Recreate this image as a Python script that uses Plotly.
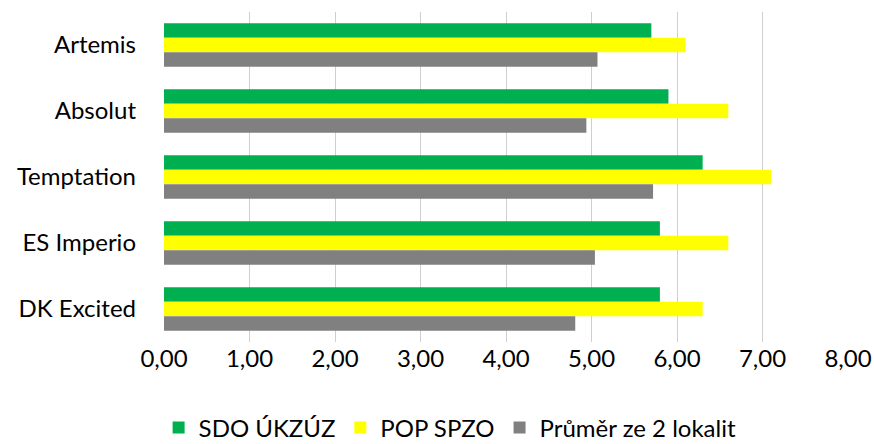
import plotly.graph_objects as go

categories = ["Artemis", "Absolut", "Temptation", "ES Imperio", "DK Excited"]
sdo_ukzuz = [5.7, 5.9, 6.3, 5.8, 5.8]
pop_spzo = [6.1, 6.6, 7.1, 6.6, 6.3]
prumer = [5.07, 4.94, 5.72, 5.04, 4.81]
series_names = ["SDO ÚKZÚZ", "POP SPZO", "Průměr ze 2 lokalit"]
colors = ["#00B050", "#FFFF00", "#808080"]
x_ticks = [0, 1, 2, 3, 4, 5, 6, 7, 8]

fig = go.Figure()
for name, vals, col in zip(series_names, [sdo_ukzuz, pop_spzo, prumer], colors):
    fig.add_trace(go.Bar(y=categories, x=vals, name=name, orientation="h",
                         marker=dict(color=col, line=dict(width=0))))

fig.update_layout(
    width=874, height=444,
    barmode="group", bargap=0.34, bargroupgap=0,
    plot_bgcolor="white", paper_bgcolor="white",
    separators=",.",
    font=dict(family="Lato", size=24, color="#000000"),
    margin=dict(l=164, r=26, t=12, b=102),
    xaxis=dict(range=[0, 8], tickvals=x_ticks, tickformat=".2f",
               showgrid=True, gridcolor="#CFCFCF", gridwidth=1.3,
               zeroline=False, showline=False, ticks="", ticklen=0,
               automargin=False, tickfont=dict(size=24)),
    yaxis=dict(autorange="reversed", showgrid=False, zeroline=False,
               showline=False, ticks="", ticklabelstandoff=27,
               automargin=False, tickfont=dict(size=24)),
    legend=dict(orientation="h", xref="container", yref="container",
                x=0.515, xanchor="center", y=0.036, yanchor="middle",
                font=dict(size=24), traceorder="normal",
                itemwidth=30, tracegroupgap=0),
)

fig.write_html("out.html", config={"displayModeBar": False},
               post_script="document.body.style.margin='0';")
